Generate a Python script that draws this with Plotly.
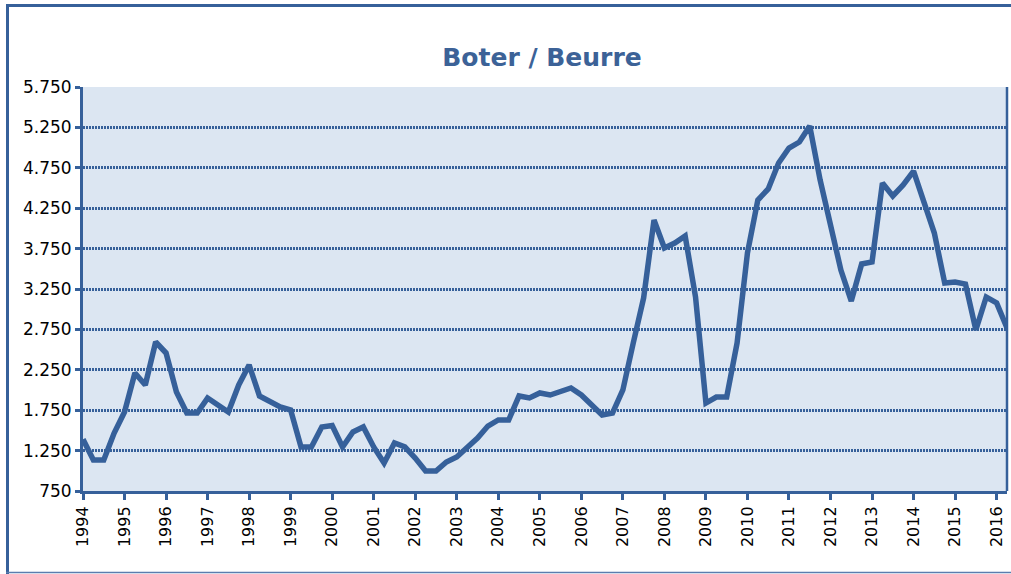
import plotly.graph_objects as go

# Quarterly butter prices, 1994 Q1 .. 2016 Q2
start_year = 1994
values = [
    1390, 1134, 1134, 1468, 1728, 2210, 2062, 2594, 2458, 1975,
    1715, 1715, 1900, 1814, 1728, 2062, 2310, 1926, 1864, 1790,
    1752, 1295, 1295, 1542, 1560, 1295, 1480, 1542, 1295, 1097,
    1344, 1295, 1158, 997, 997, 1109, 1171, 1282, 1406, 1554,
    1629, 1629, 1926, 1901, 1963, 1938, 1975, 2025, 1938, 1814,
    1690, 1715, 2000, 2582, 3139, 4104, 3757, 3819, 3906, 3151,
    1839, 1913, 1913, 2582, 3695, 4351, 4488, 4809, 4995, 5069,
    5267, 4600, 4017, 3485, 3101, 3560, 3584, 4562, 4401, 4537,
    4710, 4351, 3943, 3324, 3337, 3312, 2743, 3151, 3077, 2767,
]
x_vals = [start_year + i * 0.25 for i in range(len(values))]

year_ticks = list(range(1994, 2017))
year_labels = [str(y) for y in year_ticks]
y_ticks = [750, 1250, 1750, 2250, 2750, 3250, 3750, 4250, 4750, 5250, 5750]

BLUE = "#36609A"
FONT = "DejaVu Sans"

fig = go.Figure()
fig.add_trace(go.Scatter(
    x=x_vals, y=values, mode="lines",
    line=dict(color=BLUE, width=5.5),
    hoverinfo="skip", showlegend=False,
))

W, H = 1011, 574
L, R, T, B = 83, 4, 87, 83
pw, ph = W - L - R, H - T - B


def px_x(px):
    return (px - L) / pw


def px_y(py):
    return (H - B - py) / ph


shapes = [
    # outer frame: left, top, bottom
    dict(type="line", xref="paper", yref="paper",
         x0=px_x(7.5), x1=px_x(7.5), y0=px_y(4), y1=px_y(574),
         line=dict(color=BLUE, width=3)),
    dict(type="line", xref="paper", yref="paper",
         x0=px_x(6), x1=px_x(1011), y0=px_y(5.5), y1=px_y(5.5),
         line=dict(color=BLUE, width=3)),
    dict(type="line", xref="paper", yref="paper",
         x0=px_x(6), x1=px_x(1011), y0=px_y(572.5), y1=px_y(572.5),
         line=dict(color="#5A7DAE", width=1.5)),
    # right border of plot area
    dict(type="line", xref="paper", yref="paper",
         x0=1, x1=1, y0=0, y1=1,
         line=dict(color=BLUE, width=2.5)),
]

fig.update_layout(
    width=W, height=H,
    margin=dict(l=L, r=R, t=T, b=B),
    paper_bgcolor="white",
    plot_bgcolor="#DCE6F2",
    separators=",.",
    font=dict(family=FONT, size=16, color="black"),
    title=dict(
        text="<b>Boter / Beurre</b>",
        font=dict(family=FONT, size=25, color="#3C6297"),
        x=px_x(542), xref="paper", xanchor="center",
        y=1 - 57 / H, yref="container", yanchor="middle",
    ),
    shapes=shapes,
    xaxis=dict(
        range=[1994, 2016.25],
        tickmode="array", tickvals=year_ticks, ticktext=year_labels,
        tickangle=-90,
        showgrid=False, zeroline=False,
        showline=True, linecolor=BLUE, linewidth=3,
        ticks="outside", ticklen=6, tickwidth=2.5, tickcolor=BLUE,
        tickfont=dict(family=FONT, size=16, color="black"),
    ),
    yaxis=dict(
        range=[750, 5750],
        tickmode="array", tickvals=y_ticks,
        tickformat=",d",
        showgrid=True, gridcolor=BLUE, gridwidth=2.5, griddash="2px,1px",
        zeroline=False,
        showline=True, linecolor=BLUE, linewidth=3,
        ticks="outside", ticklen=5, tickwidth=2.5, tickcolor=BLUE,
        tickfont=dict(family=FONT, size=17, color="black"),
    ),
)

fig.write_html(
    "out.html",
    config={"displayModeBar": False},
    post_script="document.body.style.margin='0';document.body.style.overflow='hidden';",
)
